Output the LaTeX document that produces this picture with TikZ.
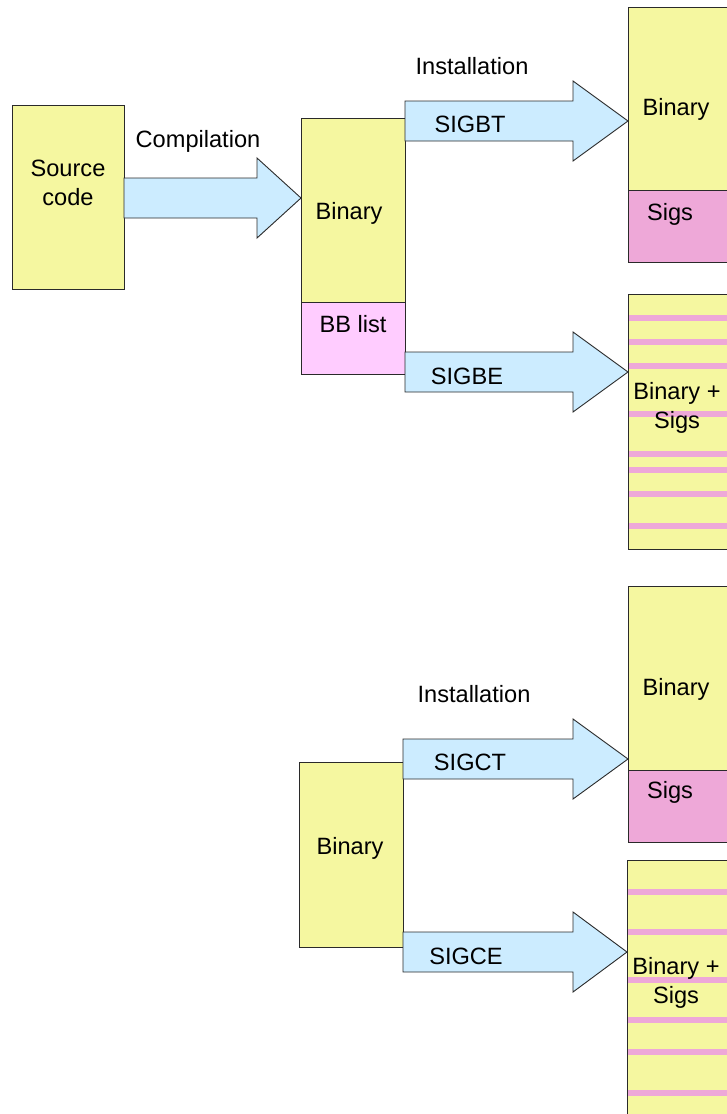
\documentclass[tikz,border=0pt]{standalone}
\usepackage{fontspec}
\setmainfont{Liberation Sans}
\definecolor{binyellow}{HTML}{F5F7A0}
\definecolor{sigpink}{HTML}{EEA8D8}
\definecolor{bbpink}{HTML}{FFCCFF}
\definecolor{flowblue}{HTML}{CCECFF}
\definecolor{edge}{HTML}{2A2A2A}
\tikzset{
  box/.style={draw=edge, line width=0.9pt, inner sep=0pt, outer sep=0pt, anchor=north west},
  binbox/.style={box, fill=binyellow},
  sigbox/.style={box, fill=sigpink},
  bbbox/.style={box, fill=bbpink},
  flow/.style={draw=edge, line width=0.9pt, fill=flowblue, line join=miter},
  stripe/.style={fill=sigpink},
  lbl/.style={inner sep=0pt, yshift=-2pt, font=\fontsize{23.6}{28.5}\selectfont, align=center}
}
% block arrow: #1 source node, #2 target node, #3 centre line y, #4 x where the head starts
\newcommand{\blockarrow}[4]{%
  \draw[flow] (#1.east |- 0,#3-20) -- (#4,#3-20) -- (#4,#3-40) -- (#2.west |- 0,#3)
    -- (#4,#3+40) -- (#4,#3+20) -- (#1.east |- 0,#3+20) -- cycle;}
\begin{document}
\begin{tikzpicture}[x=1pt, y=-1pt]
\useasboundingbox (0,0) rectangle (727,1114);
\clip (0,0) rectangle (727,1114);

% ---- compilation stage
\node[binbox, minimum width=112pt, minimum height=184pt] (src) at (12,105) {};
\node[lbl] at (68,181) {Source\\code};

\node[binbox, minimum width=104pt, minimum height=184pt] (bin1) at (301,118) {};
\node[bbbox, minimum width=104pt, minimum height=72pt] (bb) at (301,302) {};
\node[lbl] at (349,211) {Binary};
\node[lbl] at (353,322) {BB list};

\blockarrow{src}{bin1}{198}{257}
\node[lbl] (compile) at (198,139) {Compilation};

% ---- installation of the compiled binary
\node[binbox, minimum width=130pt, minimum height=183pt] (out1) at (628,7) {};
\node[sigbox, minimum width=130pt, minimum height=72pt] (sig1) at (628,190) {};
\node[lbl] at (676,107) {Binary};
\node[lbl] at (670,212) {Sigs};

\node[binbox, draw=none, minimum width=130pt, minimum height=255pt] (out2) at (628,294) {};
\foreach \s in {318,342,366,414,454,470,494,526}
  \fill[stripe] (out2.west |- 0,\s-3) rectangle (out2.east |- 0,\s+3);
\draw[edge, line width=0.9pt] (out2.north west) rectangle (out2.south east);
\node[lbl] at (677,406) {Binary +\\Sigs};

\blockarrow{bin1}{out1}{121}{573}
\blockarrow{bb}{out2}{372}{573}
\node[lbl] (inst1) at (472,64) {Installation};
\node[lbl] at (470,122) {SIGBT};
\node[lbl] at (467,374) {SIGBE};

% ---- installation of a plain binary
\node[binbox, minimum width=104pt, minimum height=185pt] (bin2) at (299,762) {};
\node[lbl] at (350,846) {Binary};

\node[binbox, minimum width=130pt, minimum height=184pt] (out3) at (628,586) {};
\node[sigbox, minimum width=130pt, minimum height=72pt] (sig3) at (628,770) {};
\node[lbl] at (676,687) {Binary};
\node[lbl] at (670,790) {Sigs};

\node[binbox, draw=none, minimum width=130pt, minimum height=270pt] (out4) at (627,860) {};
\foreach \s in {892,932,980,1020,1052,1093}
  \fill[stripe] (out4.west |- 0,\s-3) rectangle (out4.east |- 0,\s+3);
\draw[edge, line width=0.9pt] (out4.north west) rectangle (out4.south east);
\node[lbl] at (676,981) {Binary +\\Sigs};

\blockarrow{bin2}{out3}{759}{573}
\blockarrow{bin2}{out4}{952}{573}
\node[lbl] (inst2) at (474,692) {Installation};
\node[lbl] at (470,760) {SIGCT};
\node[lbl] at (466,954) {SIGCE};
\end{tikzpicture}
\end{document}
